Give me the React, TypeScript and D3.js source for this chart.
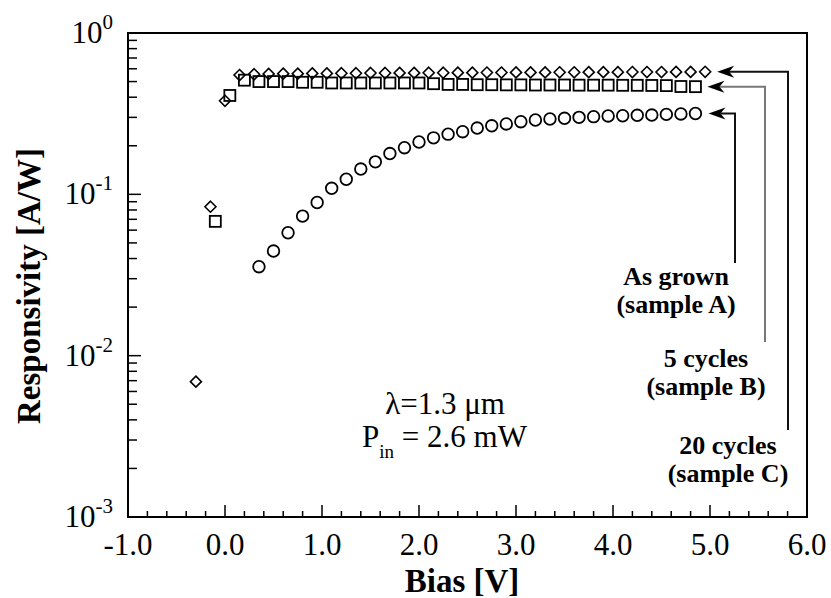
import React from "react";
import * as d3 from "d3";

// ---- data ----
const biasA = [0.35,0.50,0.65,0.80,0.95,1.10,1.25,1.40,1.55,1.70,1.85,2.00,2.15,2.30,2.45,2.60,2.75,2.90,3.05,3.20,3.35,3.50,3.65,3.80,3.95,4.10,4.25,4.40,4.55,4.70,4.85];
const respA = [0.0356,0.0445,0.0578,0.0733,0.089,0.109,0.124,0.1435,0.159,0.179,0.1945,0.211,0.224,0.236,0.2445,0.2576,0.266,0.273,0.282,0.289,0.293,0.296,0.300,0.303,0.306,0.307,0.309,0.310,0.313,0.315,0.317];

const biasB = [-0.10,0.05,0.20,0.35,0.50,0.65,0.80,0.95,1.10,1.25,1.40,1.55,1.70,1.85,2.00,2.15,2.30,2.45,2.60,2.75,2.90,3.05,3.20,3.35,3.50,3.65,3.80,3.95,4.10,4.25,4.40,4.55,4.70,4.85];
const respB = [0.068,0.41,0.51,0.50,0.50,0.50,0.495,0.495,0.49,0.49,0.49,0.49,0.49,0.49,0.49,0.485,0.48,0.48,0.478,0.478,0.477,0.477,0.476,0.476,0.476,0.475,0.475,0.475,0.474,0.474,0.473,0.472,0.466,0.465];

const biasC = [-0.30,-0.15,0.00,0.15,0.30,0.45,0.60,0.75,0.90,1.05,1.20,1.35,1.50,1.65,1.80,1.95,2.10,2.25,2.40,2.55,2.70,2.85,3.00,3.15,3.30,3.45,3.60,3.75,3.90,4.05,4.20,4.35,4.50,4.65,4.80,4.95];
const respC = [0.0069,0.0838,0.38,0.549,0.555,0.558,0.56,0.56,0.562,0.562,0.563,0.563,0.565,0.565,0.566,0.566,0.567,0.567,0.568,0.568,0.569,0.569,0.57,0.57,0.57,0.571,0.571,0.572,0.572,0.572,0.573,0.573,0.573,0.574,0.574,0.575];

const xTickLabels = ["-1.0","0.0","1.0","2.0","3.0","4.0","5.0","6.0"];
const yDecades = [0, -1, -2, -3];
const labelA = ["As grown", "(sample A)"];
const labelB = ["5 cycles", "(sample B)"];
const labelC = ["20 cycles", "(sample C)"];

const FONT = "'Liberation Serif', 'Times New Roman', serif";

export default function App() {
  const W = 831, H = 598;
  const L = 128, R = 807, T = 33, B = 517;
  const x = d3.scaleLinear().domain([-1, 6]).range([L, R]);
  const y = d3.scaleLog().domain([1e-3, 1]).range([B, T]);

  const xMinor = d3.range(-1, 6.0001, 0.2).map(v => Math.round(v * 10) / 10);
  const yMinor: number[] = [];
  for (const d of [-3, -2, -1]) for (let k = 2; k <= 9; k++) yMinor.push(k * Math.pow(10, d));

  const diamond = (cx: number, cy: number, r: number) =>
    `M${cx},${cy - r}L${cx + r},${cy}L${cx},${cy + r}L${cx - r},${cy}Z`;

  const arrow = (tipX: number, ty: number) =>
    `M${tipX},${ty}L${tipX + 17},${ty - 6}L${tipX + 12},${ty}L${tipX + 17},${ty + 6}Z`;

  const brackets = [
    { bx: biasA[biasA.length - 1], ry: respA[respA.length - 1], gap: 13, vx: 735, vy: 263, color: "#111" },
    { bx: biasB[biasB.length - 1], ry: respB[respB.length - 1], gap: 12, vx: 765, vy: 342, color: "#777" },
    { bx: biasC[biasC.length - 1], ry: respC[respC.length - 1], gap: 12, vx: 788, vy: 430, color: "#111" },
  ];

  const labels = [
    { lines: labelA, cx: 676, y0: 285 },
    { lines: labelB, cx: 706, y0: 367 },
    { lines: labelC, cx: 728, y0: 454 },
  ];

  return (
    <svg width={W} height={H} style={{ display: "block", position: "absolute", left: 0, top: 0, background: "#fff" }}>
      <rect x={0} y={0} width={W} height={H} fill="#fff" />
      {/* x ticks */}
      {xMinor.map((v, i) => {
        const major = Math.abs(v - Math.round(v)) < 1e-6;
        return <line key={"xt" + i} x1={x(v)} x2={x(v)} y1={B} y2={B - (major ? 12 : 6)} stroke="#000" strokeWidth={1.5} />;
      })}
      {/* y ticks */}
      {yDecades.map(d => (
        <line key={"ym" + d} x1={L} x2={L + 13} y1={y(Math.pow(10, d))} y2={y(Math.pow(10, d))} stroke="#000" strokeWidth={1.5} />
      ))}
      {yMinor.map((v, i) => (
        <line key={"yn" + i} x1={L} x2={L + 9} y1={y(v)} y2={y(v)} stroke="#000" strokeWidth={1.5} />
      ))}
      {/* frame */}
      <rect x={L} y={T} width={R - L} height={B - T} fill="none" stroke="#000" strokeWidth={2} />

      {/* tick labels */}
      {xTickLabels.map((t, i) => (
        <text key={"xl" + i} x={x(-1 + i)} y={555} textAnchor="middle" fontFamily={FONT} fontSize={31} fill="#000">{t}</text>
      ))}
      {yDecades.map(d => (
        <text key={"yl" + d} x={113} y={y(Math.pow(10, d)) + 10} textAnchor="end" fontFamily={FONT} fontSize={31} fill="#000">
          10<tspan dy={-14} fontSize={21}>{String(d)}</tspan>
        </text>
      ))}

      {/* axis titles */}
      <text x={462} y={592} textAnchor="middle" fontFamily={FONT} fontWeight="bold" fontSize={33} fill="#000">Bias [V]</text>
      <text transform={`translate(40,286) rotate(-90)`} textAnchor="middle" fontFamily={FONT} fontWeight="bold" fontSize={33} fill="#000">Responsivity [A/W]</text>

      {/* data */}
      {biasC.map((b, i) => (
        <path key={"c" + i} d={diamond(x(b), y(respC[i]), 5.5)} fill="none" stroke="#000" strokeWidth={1.6} />
      ))}
      {biasB.map((b, i) => (
        <rect key={"b" + i} x={x(b) - 5.5} y={y(respB[i]) - 5.5} width={11} height={11} fill="none" stroke="#000" strokeWidth={1.8} />
      ))}
      {biasA.map((b, i) => (
        <circle key={"a" + i} cx={x(b)} cy={y(respA[i])} r={5.8} fill="none" stroke="#000" strokeWidth={1.8} />
      ))}

      {/* brackets with arrows */}
      {brackets.map((br, i) => {
        const tip = x(br.bx) + br.gap;
        const yy = y(br.ry);
        return (
          <g key={"br" + i}>
            <path d={`M${tip + 12},${yy}H${br.vx}V${br.vy}`} fill="none" stroke={br.color} strokeWidth={2} />
            <path d={arrow(tip, yy)} fill="#000" />
          </g>
        );
      })}

      {/* sample labels */}
      {labels.map((lb, i) => (
        <text key={"lb" + i} textAnchor="middle" fontFamily={FONT} fontWeight="bold" fontSize={26} fill="#000">
          <tspan x={lb.cx} y={lb.y0}>{lb.lines[0]}</tspan>
          <tspan x={lb.cx} y={lb.y0 + 28}>{lb.lines[1]}</tspan>
        </text>
      ))}

      {/* annotation */}
      <text x={445} y={414} textAnchor="middle" fontFamily={FONT} fontSize={31} fill="#000">λ=1.3 μm</text>
      <text x={362} y={447} fontFamily={FONT} fontSize={31} fill="#000">
        P<tspan dy={11} fontSize={19}>in</tspan><tspan dy={-11}> = 2.6 mW</tspan>
      </text>
    </svg>
  );
}
